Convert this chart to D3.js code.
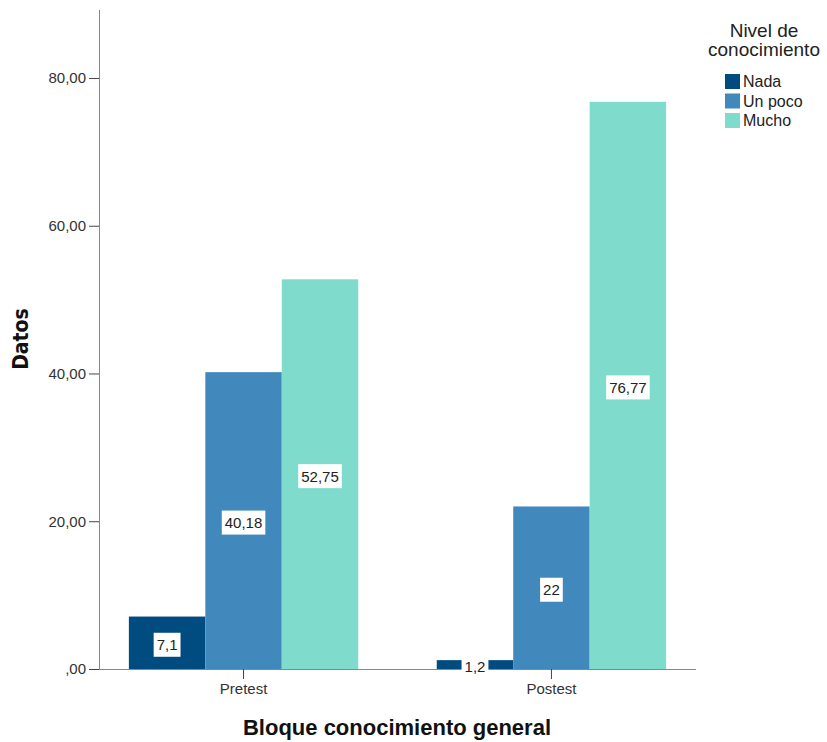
<!DOCTYPE html>
<html>
<head>
<meta charset="utf-8">
<script src="https://cdn.jsdelivr.net/npm/d3@7"></script>
<style>
  body { margin: 0; background: #fff; }
  svg { display: block; font-family: "Liberation Sans", Arial, sans-serif; }
</style>
</head>
<body>
<svg id="chart" width="827" height="742"></svg>
<script>
// Grouped bars: knowledge level per test block
const groups = ["Pretest", "Postest"];
const series = ["Nada", "Un poco", "Mucho"];
const nadaValues = [7.1, 1.2];
const unPocoValues = [40.18, 22];
const muchoValues = [52.75, 76.77];
const valueLabels = [["7,1", "1,2"], ["40,18", "22"], ["52,75", "76,77"]];
const yTicks = [0, 20, 40, 60, 80];
const colors = ["#004b80", "#4189bc", "#7fdccd"];

const seriesValues = [nadaValues, unPocoValues, muchoValues];

const svg = d3.select("#chart");

const x0 = d3.scaleBand().domain(groups).range([99, 696])
  .paddingInner(0.255).paddingOuter(0.097);
const x1 = d3.scaleBand().domain(series).range([0, x0.bandwidth()]).padding(0);
const y = d3.scaleLinear().domain([0, 89.2]).range([669, 10]);

const fmt = v => v === 0 ? ",00" : d3.format(".2f")(v).replace(".", ",");

// Bars
series.forEach((s, si) => {
  const g = svg.append("g");
  g.selectAll("rect").data(groups).join("rect")
    .attr("x", d => x0(d) + x1(s))
    .attr("y", (d, i) => y(seriesValues[si][i]))
    .attr("width", x1.bandwidth())
    .attr("height", (d, i) => y(0) - y(seriesValues[si][i]))
    .attr("fill", colors[si]);
});

// Axes
const yAxis = d3.axisLeft(y).tickValues(yTicks).tickFormat(fmt).tickSizeOuter(0).tickSize(10);
const yg = svg.append("g").attr("transform", "translate(99,0)").call(yAxis);
yg.select(".domain").attr("stroke", "#888").attr("d", "M0.5,10V669");
yg.selectAll(".tick line").attr("stroke", "#444");
yg.selectAll(".tick text").attr("font-size", 15).attr("fill", "#333")
  .attr("font-family", "Liberation Sans, Arial, sans-serif").attr("x", -13);

const xAxis = d3.axisBottom(x0).tickSizeOuter(0).tickSize(10);
const xg = svg.append("g").attr("transform", "translate(0,669)").call(xAxis);
xg.select(".domain").attr("stroke", "#888").attr("d", "M99,0.5H696");
xg.selectAll(".tick line").attr("stroke", "#444");
xg.selectAll(".tick text").attr("font-size", 15).attr("fill", "#333")
  .attr("font-family", "Liberation Sans, Arial, sans-serif").attr("y", 11).attr("dy", "0.9em");

// Value labels in white boxes at the middle of each bar
series.forEach((s, si) => {
  groups.forEach((gname, gi) => {
    const v = seriesValues[si][gi];
    const cx = x0(gname) + x1(s) + x1.bandwidth() / 2;
    const cy = (y(v) + y(0)) / 2 + 2;
    const t = svg.append("text")
      .attr("x", cx).attr("y", cy)
      .attr("text-anchor", "middle").attr("dominant-baseline", "central")
      .attr("font-size", 15).attr("fill", "#222")
      .text(valueLabels[si][gi]);
    const bb = t.node().getBBox();
    svg.insert("rect", () => t.node())
      .attr("x", bb.x - 3).attr("y", cy - 12)
      .attr("width", bb.width + 6).attr("height", 24)
      .attr("fill", "#fff");
  });
});

// Axis titles
svg.append("text")
  .attr("transform", "translate(28,339) rotate(-90)")
  .attr("text-anchor", "middle")
  .attr("font-family", "DejaVu Sans Condensed, DejaVu Sans, sans-serif")
  .attr("font-stretch", "condensed")
  .attr("font-weight", "bold").attr("font-size", 21).attr("fill", "#111")
  .text("Datos");

svg.append("text")
  .attr("x", 397).attr("y", 735)
  .attr("text-anchor", "middle")
  .attr("font-weight", "bold").attr("font-size", 22).attr("fill", "#111")
  .text("Bloque conocimiento general");

// Legend
const legend = svg.append("g");
legend.append("text").attr("x", 764).attr("y", 37).attr("text-anchor", "middle")
  .attr("font-size", 19).attr("fill", "#222").text("Nivel de");
legend.append("text").attr("x", 764).attr("y", 56).attr("text-anchor", "middle")
  .attr("font-size", 19).attr("fill", "#222").text("conocimiento");
series.forEach((s, i) => {
  const yy = 74 + i * 19.5;
  legend.append("rect").attr("x", 725).attr("y", yy).attr("width", 15).attr("height", 15)
    .attr("fill", colors[i]);
  legend.append("text").attr("x", 743).attr("y", yy + 13)
    .attr("font-size", 16).attr("fill", "#222").text(s);
});
</script>
</body>
</html>
